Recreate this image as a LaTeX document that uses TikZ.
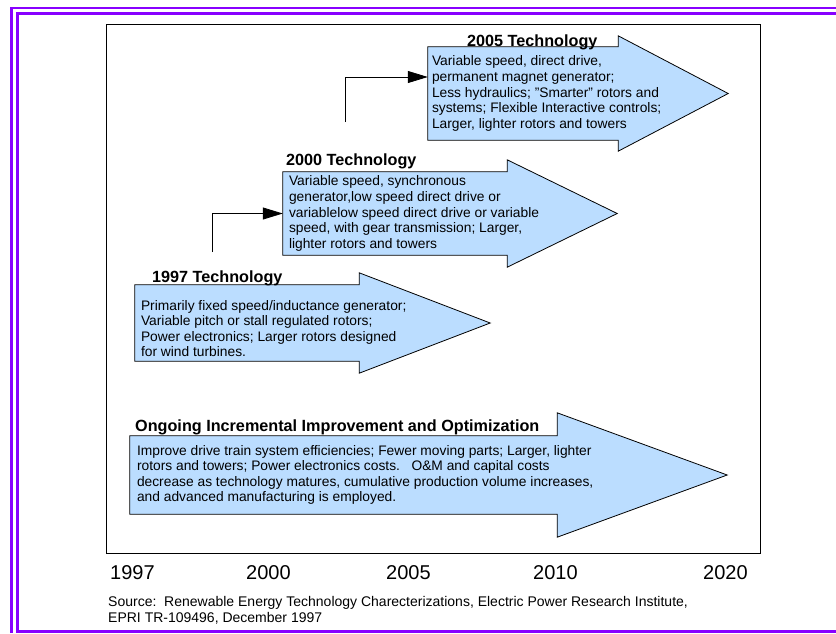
\documentclass[tikz,border=0pt]{standalone}
\usepackage{fontspec}
\setmainfont{Liberation Sans}
\usetikzlibrary{arrows.meta,calc}
\definecolor{frameviolet}{RGB}{136,0,255}
\definecolor{arrowblue}{RGB}{187,221,255}
\pgfdeclarelayer{background}
\pgfsetlayers{background,main}
\newcommand\myblockarrow[3]{%
  \begin{pgfonlayer}{background}
    \draw[blockarrow] (#1.north west) -- (#1.north east) -- ([yshift=#2]#1.north east)
      -- ([xshift=#3]#1.east) -- ([yshift=-#2]#1.south east) -- (#1.south east)
      -- (#1.south west) -- cycle;
  \end{pgfonlayer}}
\begin{document}
\begin{tikzpicture}[x=1pt,y=-1pt,
  bodybox/.style={rectangle,draw=none,inner sep=0pt},
  blockarrow/.style={draw=black,line width=0.8pt,fill=arrowblue,line join=miter},
  bodytext/.style={font=\fontsize{13.8}{15.6}\selectfont,align=left,inner sep=0pt,anchor=west},
  titletext/.style={font=\bfseries\fontsize{16.2}{19}\selectfont,inner sep=0pt,anchor=base west},
  yeartext/.style={font=\fontsize{20}{24}\selectfont,inner sep=0pt,anchor=base west},
  sourcetext/.style={font=\fontsize{14}{15.4}\selectfont,align=left,inner sep=0pt,anchor=base west},
  conn/.style={line width=0.8pt,-{Triangle[length=20pt,width=12pt]}},
  purpleline/.style={draw=frameviolet,line width=2.8pt}]
\useasboundingbox (0,0) rectangle (836,633);
% purple frame
\draw[purpleline] (11.5,633) -- (11.5,8) -- (836,8);
\draw[purpleline] (836,13.3) -- (17.3,13.3) -- (17.3,631.3) -- (836,631.3);
% black frame
\node[draw=black,line width=1pt,minimum width=654pt,minimum height=529pt,inner sep=0pt] (frame) at (433,288.5) {};
% 2005 arrow
\node[bodybox,minimum width=190pt,minimum height=93pt] (a2005) at (523,93.5) {};
\myblockarrow{a2005}{11pt}{110pt}
\node[titletext] (h2005) at (467,46) {2005 Technology};
\node[bodytext] (t2005) at ([xshift=4pt]a2005.west) {Variable speed, direct drive,\\permanent magnet generator;\\Less hydraulics; "Smarter" rotors and\\systems; Flexible Interactive controls;\\Larger, lighter rotors and towers};
% 2000 arrow
\node[bodybox,minimum width=224pt,minimum height=83pt] (a2000) at (395,213.5) {};
\myblockarrow{a2000}{12pt}{110pt}
\node[titletext] (h2000) at (286,165) {2000 Technology};
\node[bodytext] (t2000) at ([xshift=6pt]a2000.west) {Variable speed, synchronous\\generator,low speed direct drive or\\variablelow speed direct drive or variable\\speed, with gear transmission; Larger,\\lighter rotors and towers};
% 1997 arrow
\node[bodybox,minimum width=224pt,minimum height=76pt] (a1997) at (247,323) {};
\myblockarrow{a1997}{12pt}{131pt}
\node[titletext] (h1997) at (152,282) {1997 Technology};
\node[bodytext] (t1997) at ([xshift=6pt,yshift=-5.5pt]a1997.west) {Primarily fixed speed/inductance generator;\\Variable pitch or stall regulated rotors;\\Power electronics; Larger rotors designed\\for wind turbines.};
% ongoing arrow
\node[bodybox,minimum width=427pt,minimum height=78pt] (aong) at (343.5,475) {};
\myblockarrow{aong}{23pt}{170pt}
\node[titletext] (hong) at (135,431) {Ongoing Incremental Improvement and Optimization};
\node[bodytext] (tong) at ([xshift=7pt]aong.west) {Improve drive train system efficiencies; Fewer moving parts; Larger, lighter\\rotors and towers; Power electronics costs.\ \ \ O\&M and capital costs\\decrease as technology matures, cumulative production volume increases,\\and advanced manufacturing is employed.};
% connectors
\coordinate (c1) at (212,252);
\coordinate (c2) at (345,122);
\draw[conn] (c1) |- (a2000.west);
\draw[conn] (c2) |- ([yshift=16.5pt]a2005.west);
% years
\node[yeartext] (y1997) at (110,579) {1997};
\node[yeartext] (y2000) at (246,579) {2000};
\node[yeartext] (y2005) at (386,579) {2005};
\node[yeartext] (y2010) at (533,579) {2010};
\node[yeartext] (y2020) at (703,579) {2020};
% source
\node[sourcetext] (src) at (108,622) {Source:\ \ Renewable Energy Technology Charecterizations, Electric Power Research Institute,\\EPRI TR-109496, December 1997};
\end{tikzpicture}
\end{document}
